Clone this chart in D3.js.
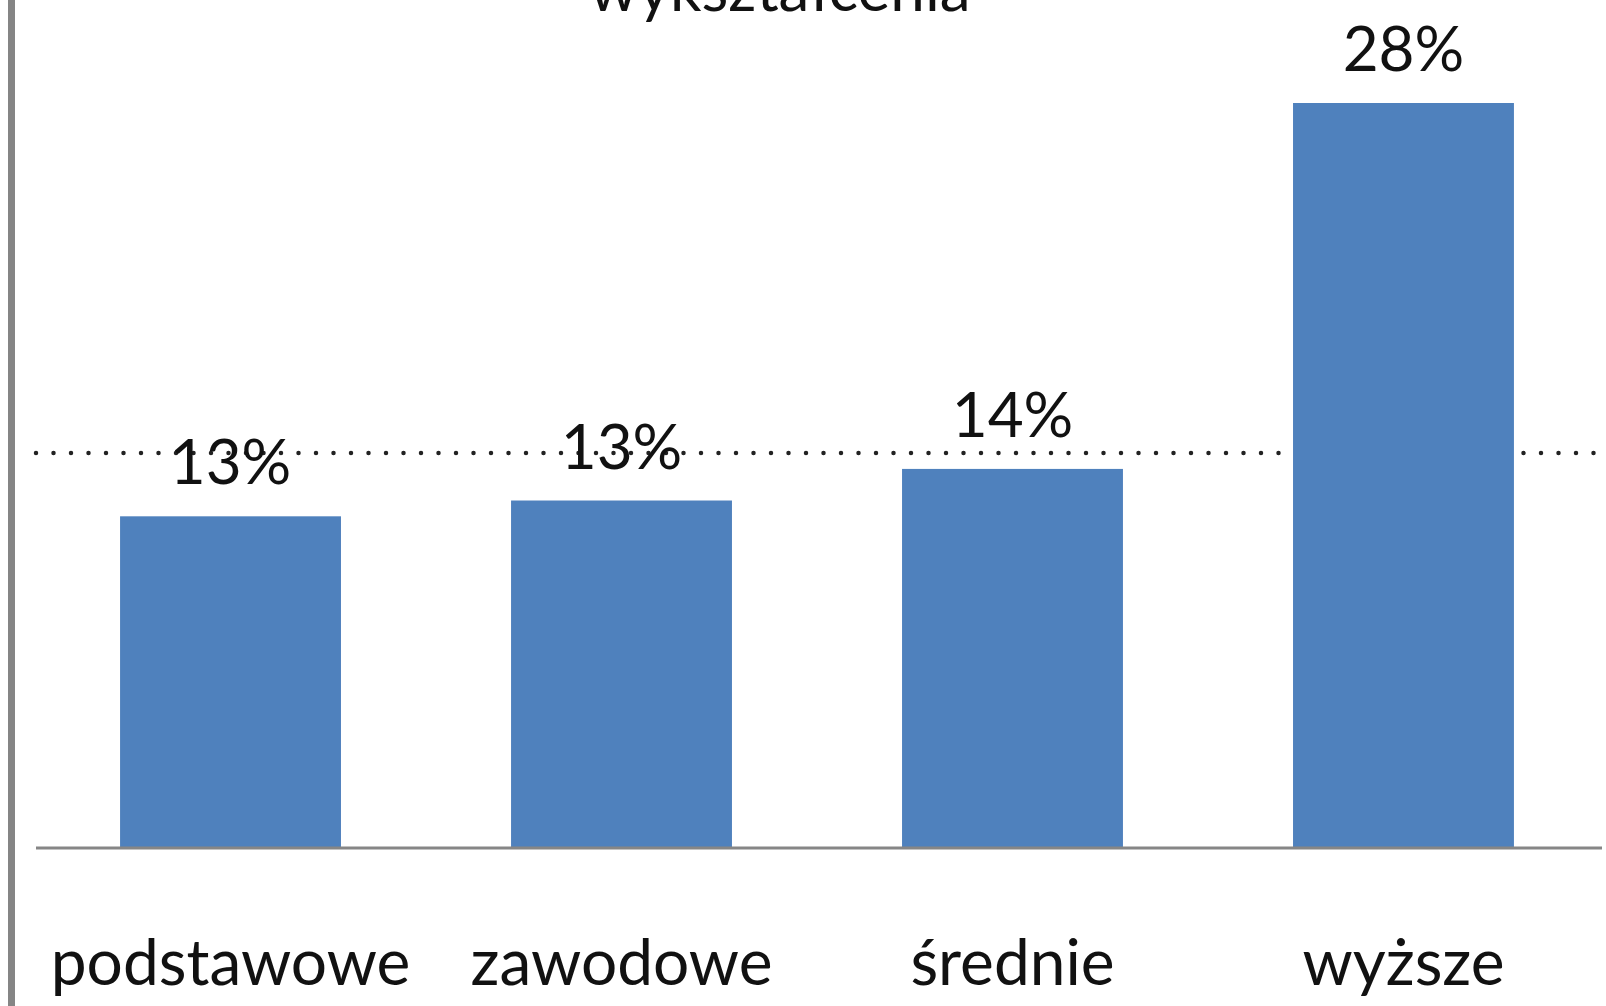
<!DOCTYPE html>
<html><head><meta charset="utf-8">
<script src="https://cdn.jsdelivr.net/npm/d3@7"></script>
<style>html,body{margin:0;padding:0;background:#fff;overflow:hidden}</style>
</head><body>
<script>
const categories = ["podstawowe", "zawodowe", "średnie", "wyższe"];
const values = [12.6, 13.2, 14.4, 28.3];
const averageValue = 15.0;
const titleText = "wykształcenia";

const W = 1606, H = 1006;
const svg = d3.select("body").append("svg").attr("width", W).attr("height", H)
  .style("font-family", "Lato, Carlito, Calibri, sans-serif");
svg.append("rect").attr("width", W).attr("height", H).attr("fill", "#fff");

const x = d3.scaleBand().domain(categories).range([36, 1598]).paddingInner(0.435).paddingOuter(0.215);
const y = d3.scaleLinear().domain([0, 28.3]).range([848, 103]);

// left frame border
svg.append("rect").attr("x", 8).attr("y", 0).attr("width", 7).attr("height", H).attr("fill", "#858585");

// title (cut off at top, as in the source)
svg.append("text").attr("x", 780).attr("y", 11).attr("text-anchor", "middle")
  .attr("font-size", 62).attr("fill", "#111").text(titleText);

// average dotted line
svg.append("line").attr("x1", 36).attr("x2", W).attr("y1", y(averageValue)).attr("y2", y(averageValue))
  .attr("stroke", "#222").attr("stroke-width", 4.5).attr("stroke-linecap", "round")
  .attr("stroke-dasharray", "0 17.5");

// bars
svg.selectAll("rect.bar").data(categories).join("rect").attr("class", "bar")
  .attr("x", d => x(d)).attr("width", x.bandwidth())
  .attr("y", (d, i) => y(values[i])).attr("height", (d, i) => y(0) - y(values[i]))
  .attr("fill", "#4F81BD");

// baseline axis
svg.append("line").attr("x1", 36).attr("x2", 1602).attr("y1", y(0)).attr("y2", y(0))
  .attr("stroke", "#868686").attr("stroke-width", 3);

// value labels
svg.selectAll("text.val").data(categories).join("text").attr("class", "val")
  .attr("x", d => x(d) + x.bandwidth() / 2).attr("y", (d, i) => y(values[i]) - 32)
  .attr("text-anchor", "middle").attr("font-size", 62).attr("fill", "#111")
  .text((d, i) => Math.round(values[i]) + "%");

// category labels
svg.selectAll("text.cat").data(categories).join("text").attr("class", "cat")
  .attr("x", d => x(d) + x.bandwidth() / 2).attr("y", 985)
  .attr("text-anchor", "middle").attr("font-size", 64).attr("fill", "#111")
  .text(d => d);
</script>
</body></html>
